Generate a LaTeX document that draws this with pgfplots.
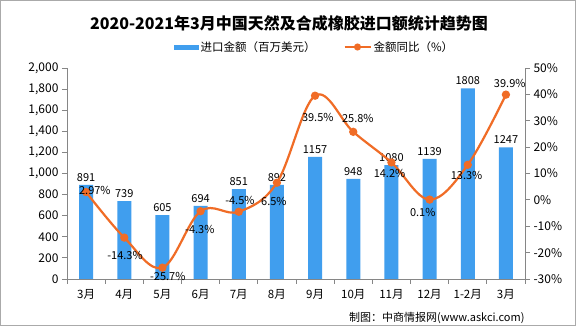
\documentclass[border=0pt]{standalone}
\usepackage{pgfplots}
\pgfplotsset{compat=1.18}
\usepackage{fontspec}
\setmainfont{Noto Sans CJK SC}
\definecolor{barblue}{RGB}{64,158,238}
\definecolor{lineorange}{RGB}{240,108,38}
\definecolor{axgray}{RGB}{134,134,134}
\begin{document}
\begin{tikzpicture}[x=1pt,y=1pt]
\fill[white] (0,0) rectangle (576,326);
\draw[axgray!70,line width=1pt] (0.5,0.5) rectangle (575.5,325.5);
\node[font=\fontsize{16}{18}\selectfont\bfseries] at (289,303) {2020-2021年3月中国天然及合成橡胶进口额统计趋势图};
\node[font=\fontsize{11}{13}\selectfont, anchor=east] at (528,8) {制图：中商情报网(www.askci.com)};
\begin{axis}[
  at={(67pt,47pt)}, anchor=south west,
  scale only axis, width=458pt, height=211pt,
  xmin=-0.5, xmax=11.5, ymin=0, ymax=2000,
  axis y line*=left, axis x line*=bottom,
  axis line style={axgray, line width=0.8pt},
  tick style={axgray, line width=0.8pt},
  tick align=outside, major tick length=5pt,
  xtick={-0.5,0.5,...,11.5},
  x tick label as interval,
  xticklabels={3月,4月,5月,6月,7月,8月,9月,10月,11月,12月,1-2月,3月},
  x tick label style={font=\fontsize{11.5}{13}\selectfont, yshift=-2pt},
  ytick={0,200,...,2000},
  y tick label style={font=\fontsize{12}{14}\selectfont},
  /pgf/number format/assume math mode=true,
  yticklabel style={/pgf/number format/1000 sep={,}},
  legend columns=2,
  legend style={at={(0.54,1.0995)}, anchor=center, draw=none, fill=none,
    font=\fontsize{11.5}{13}\selectfont,
    /tikz/every even column/.append style={column sep=26pt}},
]
\addplot[ybar, bar width=14pt, bar shift=0pt, fill=barblue, draw=none,
  nodes near coords, every node near coord/.append style={font=\fontsize{11}{13}\selectfont, black, /pgf/number format/1000 sep={}},
  legend image code/.code={\fill[barblue] (0pt,-2.5pt) rectangle (25pt,2.5pt);}]
  coordinates {(0,891) (1,739) (2,605) (3,694) (4,851) (5,892) (6,1157) (7,948) (8,1080) (9,1139) (10,1808) (11,1247)};
\addlegendentry{进口金额（百万美元）}
\addlegendimage{lineorange, line width=2pt,
  legend image code/.code={\draw[lineorange, line width=2pt] (0pt,0pt) -- (26pt,0pt); \fill[lineorange] (13pt,0pt) circle (2.5pt);}}
\addlegendentry{金额同比（\%）}
\end{axis}
\begin{axis}[
  at={(67pt,47pt)}, anchor=south west,
  scale only axis, width=458pt, height=211pt,
  xmin=-0.5, xmax=11.5, ymin=-30, ymax=50,
  axis y line*=right, axis x line=none,
  axis line style={axgray, line width=0.8pt},
  tick style={axgray, line width=0.8pt},
  tick align=outside, major tick length=5pt,
  ytick={-30,-20,...,50},
  yticklabel={\pgfmathprintnumber{\tick}\%},
  y tick label style={font=\fontsize{12}{14}\selectfont},
  /pgf/number format/assume math mode=true,
]
\addplot[lineorange, line width=2.2pt, smooth, tension=0.6, mark=*, mark size=3pt]
  coordinates {(0,2.97) (1,-14.3) (2,-25.7) (3,-4.3) (4,-4.5) (5,6.5) (6,39.5) (7,25.8) (8,14.2) (9,0.1) (10,13.3) (11,39.9)};
\addplot[draw=none, mark=none, nodes near coords, point meta=explicit symbolic,
  every node near coord/.append style={anchor=center, font=\fontsize{11}{13}\selectfont, black}]
  coordinates {(0.23,3.4) [2.97\%] (1.02,-20.9) [-14.3\%] (2.14,-29.2) [-25.7\%] (2.98,-11.4) [-4.3\%]
   (4.03,-0.4) [-4.5\%] (4.92,-0.7) [6.5\%] (6.07,31.4) [39.5\%] (7.12,31.0) [25.8\%]
   (7.95,10.2) [14.2\%] (8.82,-4.6) [0.1\%] (9.97,9.2) [13.3\%] (11.1,44.3) [39.9\%]};
\end{axis}
\end{tikzpicture}
\end{document}
